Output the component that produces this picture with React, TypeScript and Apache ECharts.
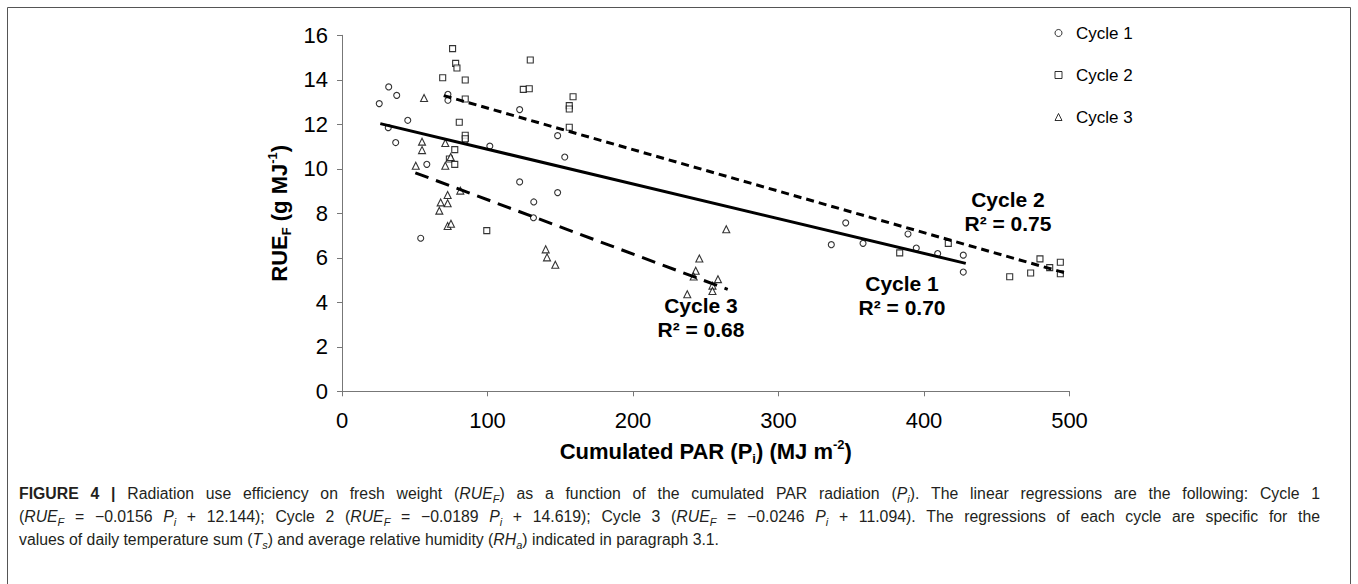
import React, { useEffect, useRef } from "react";
import * as echarts from "echarts";

const FONT = "'Liberation Sans', Arial, Helvetica, sans-serif";

// Cycle 1 (circles): [cumulated PAR, RUE_F]
const cycle1: number[][] = [
  [25.6, 12.93], [32.1, 13.68], [37.6, 13.3], [45.2, 12.18], [31.8, 11.85],
  [36.9, 11.18], [72.8, 13.35], [72.8, 13.08], [84.7, 11.28], [101.6, 11.02],
  [58.3, 10.2], [54.1, 6.88], [122.1, 12.66], [148.2, 11.49], [153.1, 10.53],
  [122.1, 9.41], [148.2, 8.93], [131.8, 8.51], [131.6, 7.8], [336.3, 6.59],
  [346.2, 7.57], [358.1, 6.65], [389.0, 7.07], [394.7, 6.44], [409.4, 6.19],
  [427.0, 6.12], [427.0, 5.36],
];

// Cycle 2 (squares)
const cycle2: number[][] = [
  [76.0, 15.4], [78.1, 14.74], [79.0, 14.53], [69.2, 14.09], [84.7, 13.99],
  [84.7, 13.14], [80.6, 12.09], [84.7, 11.51], [84.7, 11.35], [77.5, 10.86],
  [73.8, 10.44], [77.5, 10.2], [99.5, 7.22], [129.4, 14.89], [124.6, 13.57],
  [128.7, 13.6], [158.8, 13.24], [156.2, 12.84], [156.2, 12.69], [156.2, 11.87],
  [383.3, 6.22], [416.7, 6.65], [458.9, 5.15], [473.3, 5.32], [479.7, 5.95],
  [486.4, 5.56], [493.7, 5.8], [493.7, 5.28],
];

// Cycle 3 (triangles)
const cycle3: number[][] = [
  [56.4, 13.18], [55.0, 11.22], [55.0, 10.84], [71.0, 11.16], [74.7, 10.53],
  [71.0, 10.14], [50.7, 10.14], [81.3, 9.02], [72.6, 8.82], [67.8, 8.49],
  [72.6, 8.45], [66.9, 8.12], [72.6, 7.43], [74.9, 7.53], [140.0, 6.38],
  [140.9, 6.02], [146.6, 5.69], [264.1, 7.28], [245.6, 5.97], [243.1, 5.42],
  [241.7, 5.16], [258.4, 5.04], [254.6, 4.75], [254.6, 4.51], [237.3, 4.36],
];

// Regression lines (end points as drawn)
const fit1: number[][] = [[26.3, 12.03], [428.7, 5.75]];
const fit2: number[][] = [[69.9, 13.29], [498.0, 5.3]];
const fit3: number[][] = [[50.4, 9.82], [265.1, 4.58]];

// Annotation labels and their anchor (data coords)
const annotTexts = ["Cycle 1\nR² = 0.70", "Cycle 2\nR² = 0.75", "Cycle 3\nR² = 0.68"];
const annotCoords: number[][] = [[384.9, 4.3], [457.7, 8.1], [246.7, 3.32]];

const seriesNames = ["Cycle 1", "Cycle 2", "Cycle 3"];
const symbols = ["circle", "rect", "triangle"];

const xTicks = { min: 0, max: 500, interval: 100 };
const yTicks = { min: 0, max: 16, interval: 2 };

// Caption: segments of [style, text]
const captionLines: [string, string][][] = [
  [
    ["b", "FIGURE 4 |"],
    ["n", " Radiation use efficiency on fresh weight ("], ["i", "RUE"], ["isub", "F"],
    ["n", ") as a function of the cumulated PAR radiation ("], ["i", "P"], ["isub", "i"],
    ["n", "). The linear regressions are the following: Cycle 1"],
  ],
  [
    ["n", "("], ["i", "RUE"], ["isub", "F"], ["n", " = \u22120.0156 "], ["i", "P"], ["isub", "i"],
    ["n", " + 12.144); Cycle 2 ("], ["i", "RUE"], ["isub", "F"], ["n", " = \u22120.0189 "], ["i", "P"], ["isub", "i"],
    ["n", " + 14.619); Cycle 3 ("], ["i", "RUE"], ["isub", "F"], ["n", " = \u22120.0246 "], ["i", "P"], ["isub", "i"],
    ["n", " + 11.094). The regressions of each cycle are specific for the"],
  ],
  [
    ["n", "values of daily temperature sum ("], ["i", "T"], ["isub", "s"],
    ["n", ") and average relative humidity ("], ["i", "RH"], ["isub", "a"],
    ["n", ") indicated in paragraph 3.1."],
  ],
];
const captionJustify = [true, true, false];

const CAP_FS = 15.8;
const CAP_SUB_FS = 11;
const CAP_COLOR = "#231f20";
const capFonts: Record<string, { style: string; weight: string; size: number }> = {
  n: { style: "normal", weight: "normal", size: CAP_FS },
  b: { style: "normal", weight: "bold", size: CAP_FS },
  i: { style: "italic", weight: "normal", size: CAP_FS },
  isub: { style: "italic", weight: "normal", size: CAP_SUB_FS },
};

let measureCtx: CanvasRenderingContext2D | null = null;
function measure(text: string, key: string): number {
  if (!measureCtx) measureCtx = document.createElement("canvas").getContext("2d");
  const f = capFonts[key];
  measureCtx!.font = `${f.style} ${f.weight} ${f.size}px ${FONT}`;
  return measureCtx!.measureText(text).width;
}

function buildLine(segs: [string, string][], targetWidth: number, justify: boolean) {
  const toks: { key: string; text: string; space: boolean }[] = [];
  segs.forEach(([key, text]) => {
    const parts = text.split(" ");
    parts.forEach((p, idx) => {
      if (idx > 0) toks.push({ key, text: " ", space: true });
      if (p.length) toks.push({ key, text: p, space: false });
    });
  });
  let w0 = 0;
  let nSp = 0;
  toks.forEach((t) => {
    if (t.space) nSp += 1;
    else w0 += measure(t.text, t.key);
  });
  const natural = measure(" ", "n");
  const spW = justify && nSp > 0 ? (targetWidth - w0) / nSp : natural;
  const text = toks.map((t) => (t.space ? "{sp| }" : `{${t.key}|${t.text}}`)).join("");
  return { text, spW };
}

export default function App() {
  const ref = useRef<HTMLDivElement>(null);
  useEffect(() => {
    if (!ref.current) return;
    const chart = echarts.init(ref.current, undefined, { renderer: "svg" });

    const capBase = { fontFamily: FONT, fill: CAP_COLOR, lineHeight: 23 };
    const capY = [493, 516, 539];
    const capLeft = 19;
    const capRight = 1320;

    const captionGraphics = captionLines.map((segs, k) => {
      const { text, spW } = buildLine(segs, capRight - capLeft, captionJustify[k]);
      return {
        type: "text",
        left: capLeft,
        top: capY[k] - 11.5,
        silent: true,
        style: {
          text,
          fontSize: CAP_FS,
          fontFamily: FONT,
          fill: CAP_COLOR,
          lineHeight: 23,
          rich: {
            n: { ...capBase, fontSize: CAP_FS },
            b: { ...capBase, fontSize: CAP_FS, fontWeight: "bold" },
            i: { ...capBase, fontSize: CAP_FS, fontStyle: "italic" },
            isub: { ...capBase, fontSize: CAP_SUB_FS, fontStyle: "italic", lineHeight: 11, verticalAlign: "bottom" },
            sp: { ...capBase, fontSize: CAP_FS, width: spW },
          },
        },
      };
    });

    const scatterSeries = [cycle1, cycle2, cycle3].map((d, k) => ({
      name: seriesNames[k],
      type: "scatter",
      data: d,
      symbol: symbols[k],
      symbolSize: k === 2 ? 7 : 6,
      itemStyle: { color: "#ffffff", borderColor: "#000000", borderWidth: 1.1 },
      z: 2,
    }));

    const dashes: any[] = ["solid", [8, 5], [14, 8]];
    const fitSeries = [fit1, fit2, fit3].map((d, k) => ({
      name: seriesNames[k] + " fit",
      type: "line",
      data: d,
      symbol: "none",
      lineStyle: { color: "#000", width: 3, type: dashes[k] },
      z: 3,
      markPoint: {
        symbol: "circle",
        symbolSize: 1,
        itemStyle: { color: "rgba(0,0,0,0)" },
        label: {
          show: true,
          position: "inside",
          fontSize: 21,
          fontWeight: "bold",
          fontFamily: FONT,
          color: "#000",
          lineHeight: 24,
          align: "center",
        },
        data: [{ coord: annotCoords[k], label: { formatter: annotTexts[k] } }],
      },
    }));

    const axisLineStyle = { color: "#777777", width: 1 };
    const titleRich = {
      b: { fontSize: 22, fontWeight: "bold", fontFamily: FONT, color: "#000", lineHeight: 27 },
      bsub: { fontSize: 13, fontWeight: "bold", fontFamily: FONT, color: "#000", lineHeight: 13, verticalAlign: "bottom" },
      bsup: { fontSize: 13, fontWeight: "bold", fontFamily: FONT, color: "#000", lineHeight: 13, verticalAlign: "top" },
    };

    const option: any = {
      animation: false,
      backgroundColor: "#ffffff",
      grid: { left: 342, top: 35.3, width: 727.5, height: 356 },
      legend: {
        data: seriesNames,
        orient: "vertical",
        left: 1054.5,
        top: 23,
        padding: 0,
        itemGap: 22,
        itemWidth: 7,
        itemHeight: 7,
        textStyle: { fontSize: 17, fontFamily: FONT, color: "#000", lineHeight: 20, padding: [0, 0, 0, 9] },
        itemStyle: { color: "#fff", borderColor: "#000", borderWidth: 1 },
        selectedMode: false,
      },
      xAxis: {
        type: "value",
        ...xTicks,
        axisLine: { show: true, onZero: false, lineStyle: axisLineStyle },
        axisTick: { show: true, length: 5, lineStyle: axisLineStyle },
        splitLine: { show: false },
        axisLabel: { fontSize: 22, color: "#000", fontFamily: FONT, margin: 18 },
        name: "{b|Cumulated PAR (P}{bsub|i}{b|) (MJ m}{bsup|-2}{b|)}",
        nameLocation: "middle",
        nameGap: 47,
        nameTextStyle: { rich: titleRich },
      },
      yAxis: {
        type: "value",
        ...yTicks,
        axisLine: { show: true, onZero: false, lineStyle: axisLineStyle },
        axisTick: { show: true, length: 5, lineStyle: axisLineStyle },
        splitLine: { show: false },
        axisLabel: { fontSize: 22, color: "#000", fontFamily: FONT, margin: 14 },
        name: "{b|RUE}{bsub|F}{b| (g MJ}{bsup|-1}{b|)}",
        nameLocation: "middle",
        nameRotate: 90,
        nameGap: 44,
        nameTextStyle: { rich: titleRich },
      },
      series: [...scatterSeries, ...fitSeries],
      graphic: [
        {
          type: "rect",
          silent: true,
          shape: { x: 7.5, y: 7.5, width: 1343, height: 620 },
          style: { fill: "none", stroke: "#555555", lineWidth: 1 },
        },
        ...captionGraphics,
      ],
    };
    chart.setOption(option);
    return () => chart.dispose();
  }, []);
  return (
    <div
      ref={ref}
      style={{ position: "absolute", left: 0, top: 0, width: 1358, height: 584, background: "#fff" }}
    />
  );
}
